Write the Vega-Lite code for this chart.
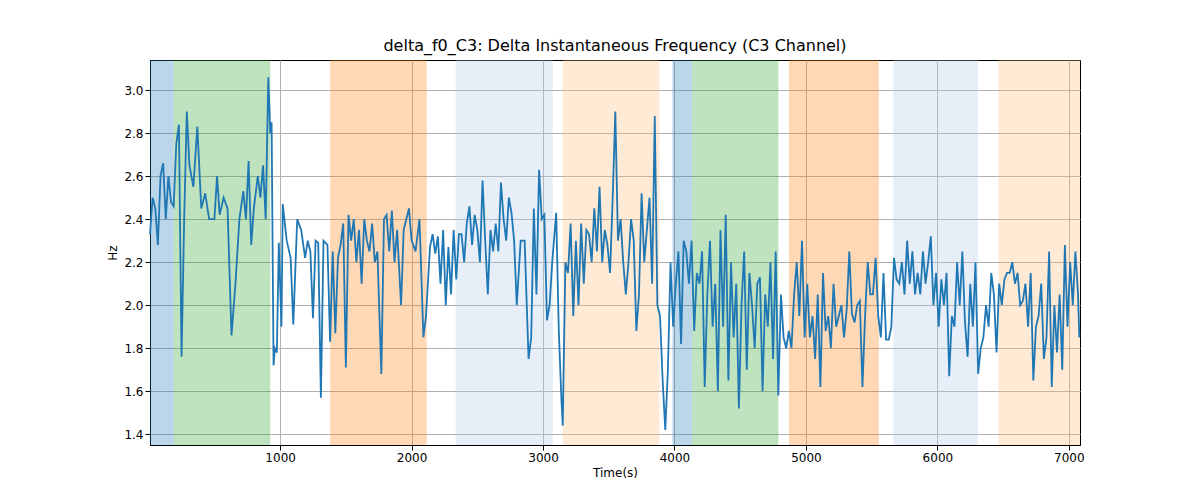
{"$schema":"https://vega.github.io/schema/vega-lite/v6.json","width":930,"height":385,"autosize":{"type":"none"},"padding":{"left":150,"top":60,"right":120,"bottom":55},
"title":{"text":"delta_f0_C3: Delta Instantaneous Frequency (C3 Channel)","font":"DejaVu Sans","fontSize":16,"fontWeight":"normal","color":"black","offset":6},
"config":{"view":{"stroke":"black","strokeWidth":1},"axis":{"labelFont":"DejaVu Sans","titleFont":"DejaVu Sans","labelFontSize":12,"titleFontSize":12,"titleFontWeight":"normal","labelColor":"black","titleColor":"black","gridColor":"#b0b0b0","gridWidth":1,"domainColor":"black","tickColor":"black"}},
"datasets":{"bands":[{"s":10,"e":190,"c":"#1f77b4"},{"s":190,"e":925,"c":"#2ca02c"},{"s":1380,"e":2115,"c":"#ff7f0e"},{"s":2335,"e":3075,"c":"#aec7e8"},{"s":3150,"e":3885,"c":"#ffbb78"},{"s":3985,"e":4135,"c":"#1f77b4"},{"s":4135,"e":4790,"c":"#2ca02c"},{"s":4870,"e":5555,"c":"#ff7f0e"},{"s":5665,"e":6310,"c":"#aec7e8"},{"s":6465,"e":7085,"c":"#ffbb78"}],
"series":[{"t":10,"v":2.33},{"t":30,"v":2.5},{"t":50,"v":2.45},{"t":70,"v":2.28},{"t":90,"v":2.6},{"t":110,"v":2.66},{"t":130,"v":2.4},{"t":150,"v":2.6},{"t":170,"v":2.48},{"t":190,"v":2.46},{"t":210,"v":2.75},{"t":230,"v":2.84},{"t":250,"v":1.76},{"t":270,"v":2.4},{"t":290,"v":2.9},{"t":310,"v":2.65},{"t":340,"v":2.55},{"t":370,"v":2.83},{"t":400,"v":2.45},{"t":430,"v":2.52},{"t":460,"v":2.4},{"t":500,"v":2.4},{"t":520,"v":2.6},{"t":540,"v":2.42},{"t":570,"v":2.5},{"t":600,"v":2.45},{"t":630,"v":1.86},{"t":660,"v":2.1},{"t":690,"v":2.4},{"t":720,"v":2.53},{"t":740,"v":2.4},{"t":760,"v":2.67},{"t":780,"v":2.28},{"t":800,"v":2.45},{"t":830,"v":2.6},{"t":850,"v":2.5},{"t":870,"v":2.65},{"t":890,"v":2.4},{"t":910,"v":3.06},{"t":925,"v":2.8},{"t":935,"v":2.85},{"t":950,"v":1.72},{"t":960,"v":1.8},{"t":975,"v":1.78},{"t":990,"v":2.29},{"t":1010,"v":1.9},{"t":1020,"v":2.47},{"t":1050,"v":2.3},{"t":1080,"v":2.22},{"t":1100,"v":1.91},{"t":1130,"v":2.4},{"t":1160,"v":2.35},{"t":1190,"v":2.22},{"t":1210,"v":2.3},{"t":1230,"v":2.25},{"t":1250,"v":1.94},{"t":1270,"v":2.3},{"t":1290,"v":2.29},{"t":1310,"v":1.57},{"t":1330,"v":2.3},{"t":1360,"v":2.28},{"t":1380,"v":1.83},{"t":1400,"v":2.25},{"t":1420,"v":1.87},{"t":1440,"v":2.22},{"t":1460,"v":2.28},{"t":1480,"v":2.38},{"t":1500,"v":1.71},{"t":1520,"v":2.42},{"t":1540,"v":2.3},{"t":1560,"v":2.4},{"t":1580,"v":2.2},{"t":1600,"v":2.35},{"t":1620,"v":2.1},{"t":1640,"v":2.4},{"t":1660,"v":2.3},{"t":1680,"v":2.25},{"t":1700,"v":2.38},{"t":1720,"v":2.2},{"t":1740,"v":2.25},{"t":1770,"v":1.68},{"t":1790,"v":2.4},{"t":1810,"v":2.42},{"t":1830,"v":2.25},{"t":1850,"v":2.44},{"t":1870,"v":2.2},{"t":1890,"v":2.35},{"t":1920,"v":2.0},{"t":1940,"v":2.35},{"t":1960,"v":2.4},{"t":1980,"v":2.45},{"t":2000,"v":2.3},{"t":2030,"v":2.25},{"t":2060,"v":2.4},{"t":2090,"v":1.85},{"t":2110,"v":1.95},{"t":2140,"v":2.27},{"t":2160,"v":2.33},{"t":2180,"v":2.24},{"t":2200,"v":2.32},{"t":2220,"v":2.1},{"t":2240,"v":2.35},{"t":2260,"v":2.0},{"t":2280,"v":2.27},{"t":2300,"v":2.05},{"t":2320,"v":2.35},{"t":2340,"v":2.12},{"t":2360,"v":2.33},{"t":2380,"v":2.33},{"t":2400,"v":2.2},{"t":2420,"v":2.38},{"t":2440,"v":2.46},{"t":2460,"v":2.28},{"t":2480,"v":2.42},{"t":2500,"v":2.35},{"t":2520,"v":2.2},{"t":2540,"v":2.58},{"t":2560,"v":2.3},{"t":2580,"v":2.05},{"t":2600,"v":2.35},{"t":2620,"v":2.25},{"t":2640,"v":2.38},{"t":2660,"v":2.25},{"t":2680,"v":2.57},{"t":2700,"v":2.4},{"t":2720,"v":2.3},{"t":2740,"v":2.5},{"t":2760,"v":2.43},{"t":2780,"v":2.3},{"t":2800,"v":2.0},{"t":2830,"v":2.3},{"t":2860,"v":2.3},{"t":2890,"v":1.75},{"t":2910,"v":1.85},{"t":2930,"v":2.45},{"t":2950,"v":2.05},{"t":2970,"v":2.63},{"t":2990,"v":2.4},{"t":3010,"v":2.42},{"t":3030,"v":1.93},{"t":3050,"v":2.0},{"t":3070,"v":2.2},{"t":3100,"v":2.43},{"t":3120,"v":1.88},{"t":3140,"v":1.56},{"t":3150,"v":1.44},{"t":3170,"v":2.2},{"t":3190,"v":2.15},{"t":3210,"v":2.38},{"t":3230,"v":1.95},{"t":3250,"v":2.3},{"t":3270,"v":2.0},{"t":3290,"v":2.38},{"t":3310,"v":2.1},{"t":3330,"v":2.35},{"t":3350,"v":2.33},{"t":3370,"v":2.2},{"t":3390,"v":2.45},{"t":3410,"v":2.25},{"t":3430,"v":2.55},{"t":3450,"v":2.2},{"t":3470,"v":2.35},{"t":3490,"v":2.28},{"t":3510,"v":2.15},{"t":3530,"v":2.5},{"t":3550,"v":2.9},{"t":3570,"v":2.3},{"t":3590,"v":2.4},{"t":3610,"v":2.2},{"t":3630,"v":2.05},{"t":3650,"v":2.2},{"t":3670,"v":2.4},{"t":3690,"v":2.3},{"t":3710,"v":1.88},{"t":3730,"v":2.05},{"t":3750,"v":2.52},{"t":3770,"v":2.2},{"t":3790,"v":2.35},{"t":3810,"v":2.5},{"t":3830,"v":2.1},{"t":3850,"v":2.88},{"t":3870,"v":2.0},{"t":3890,"v":1.95},{"t":3910,"v":1.65},{"t":3930,"v":1.42},{"t":3950,"v":1.7},{"t":3970,"v":2.2},{"t":3990,"v":1.9},{"t":4010,"v":2.1},{"t":4030,"v":2.25},{"t":4050,"v":1.82},{"t":4070,"v":2.3},{"t":4090,"v":2.25},{"t":4110,"v":2.1},{"t":4130,"v":2.3},{"t":4150,"v":1.88},{"t":4170,"v":2.15},{"t":4190,"v":2.1},{"t":4210,"v":2.25},{"t":4230,"v":1.62},{"t":4250,"v":2.05},{"t":4270,"v":2.3},{"t":4290,"v":1.9},{"t":4310,"v":2.1},{"t":4330,"v":1.6},{"t":4350,"v":2.35},{"t":4370,"v":1.9},{"t":4390,"v":2.42},{"t":4410,"v":1.65},{"t":4430,"v":2.2},{"t":4450,"v":1.85},{"t":4470,"v":2.1},{"t":4490,"v":1.52},{"t":4510,"v":2.0},{"t":4530,"v":2.25},{"t":4550,"v":1.7},{"t":4570,"v":2.15},{"t":4590,"v":2.0},{"t":4610,"v":1.8},{"t":4630,"v":2.1},{"t":4650,"v":2.13},{"t":4670,"v":1.6},{"t":4690,"v":2.05},{"t":4710,"v":1.9},{"t":4730,"v":2.2},{"t":4750,"v":1.75},{"t":4770,"v":2.25},{"t":4790,"v":1.58},{"t":4810,"v":2.05},{"t":4830,"v":1.85},{"t":4850,"v":1.8},{"t":4870,"v":1.88},{"t":4890,"v":1.8},{"t":4910,"v":2.05},{"t":4930,"v":2.2},{"t":4950,"v":1.95},{"t":4970,"v":2.3},{"t":4990,"v":1.85},{"t":5010,"v":2.1},{"t":5030,"v":1.85},{"t":5050,"v":1.95},{"t":5070,"v":1.75},{"t":5090,"v":2.05},{"t":5110,"v":1.62},{"t":5130,"v":2.15},{"t":5150,"v":1.88},{"t":5170,"v":1.95},{"t":5190,"v":1.8},{"t":5210,"v":2.1},{"t":5230,"v":1.9},{"t":5250,"v":1.95},{"t":5270,"v":2.0},{"t":5290,"v":1.85},{"t":5310,"v":1.98},{"t":5330,"v":2.25},{"t":5350,"v":1.96},{"t":5370,"v":1.92},{"t":5390,"v":2.0},{"t":5410,"v":2.02},{"t":5430,"v":1.62},{"t":5450,"v":1.95},{"t":5470,"v":2.2},{"t":5490,"v":2.05},{"t":5510,"v":2.05},{"t":5530,"v":2.22},{"t":5550,"v":1.95},{"t":5570,"v":1.85},{"t":5590,"v":2.15},{"t":5610,"v":1.84},{"t":5630,"v":1.84},{"t":5650,"v":1.9},{"t":5670,"v":2.22},{"t":5690,"v":2.12},{"t":5710,"v":2.1},{"t":5730,"v":2.2},{"t":5750,"v":2.05},{"t":5770,"v":2.3},{"t":5790,"v":2.1},{"t":5810,"v":2.25},{"t":5830,"v":2.05},{"t":5850,"v":2.15},{"t":5870,"v":2.05},{"t":5890,"v":2.25},{"t":5910,"v":2.1},{"t":5930,"v":2.2},{"t":5950,"v":2.32},{"t":5970,"v":2.0},{"t":5990,"v":2.15},{"t":6010,"v":1.9},{"t":6030,"v":2.12},{"t":6050,"v":2.0},{"t":6070,"v":2.15},{"t":6090,"v":1.67},{"t":6110,"v":1.95},{"t":6130,"v":1.9},{"t":6150,"v":2.2},{"t":6170,"v":2.0},{"t":6190,"v":2.25},{"t":6210,"v":1.92},{"t":6230,"v":1.76},{"t":6250,"v":2.1},{"t":6270,"v":1.9},{"t":6290,"v":2.2},{"t":6310,"v":1.68},{"t":6330,"v":1.8},{"t":6350,"v":1.85},{"t":6370,"v":2.0},{"t":6390,"v":1.9},{"t":6410,"v":2.15},{"t":6430,"v":2.05},{"t":6450,"v":1.78},{"t":6470,"v":2.1},{"t":6490,"v":2.0},{"t":6510,"v":2.12},{"t":6530,"v":2.15},{"t":6550,"v":2.15},{"t":6570,"v":2.2},{"t":6590,"v":2.1},{"t":6610,"v":2.15},{"t":6630,"v":2.0},{"t":6650,"v":2.02},{"t":6670,"v":2.1},{"t":6690,"v":1.9},{"t":6710,"v":2.15},{"t":6730,"v":1.65},{"t":6750,"v":1.9},{"t":6770,"v":1.95},{"t":6790,"v":2.1},{"t":6810,"v":1.75},{"t":6830,"v":1.85},{"t":6850,"v":2.25},{"t":6870,"v":1.62},{"t":6890,"v":2.0},{"t":6910,"v":1.78},{"t":6930,"v":2.05},{"t":6950,"v":1.7},{"t":6970,"v":2.28},{"t":6990,"v":1.9},{"t":7010,"v":2.2},{"t":7030,"v":2.0},{"t":7050,"v":2.25},{"t":7070,"v":2.05},{"t":7080,"v":1.85}]},
"layer":[
{"data":{"name":"bands"},"mark":{"type":"rect","opacity":0.3},"encoding":{"x":{"field":"s","type":"quantitative","scale":{"domain":[10,7085],"nice":false,"zero":false},"axis":{"title":"Time(s)","values":[1000,2000,3000,4000,5000,6000,7000],"format":"d","grid":true,"labelFlush":false}},"x2":{"field":"e"},"color":{"field":"c","type":"nominal","scale":null}}},
{"data":{"name":"series"},"mark":{"type":"line","color":"#1f77b4","strokeWidth":1.8},"encoding":{"x":{"field":"t","type":"quantitative"},"y":{"field":"v","type":"quantitative","scale":{"domain":[1.35,3.14],"nice":false,"zero":false},"axis":{"title":"Hz","values":[1.4,1.6,1.8,2.0,2.2,2.4,2.6,2.8,3.0],"format":".1f","grid":true,"labelFlush":false}}}}
]}
